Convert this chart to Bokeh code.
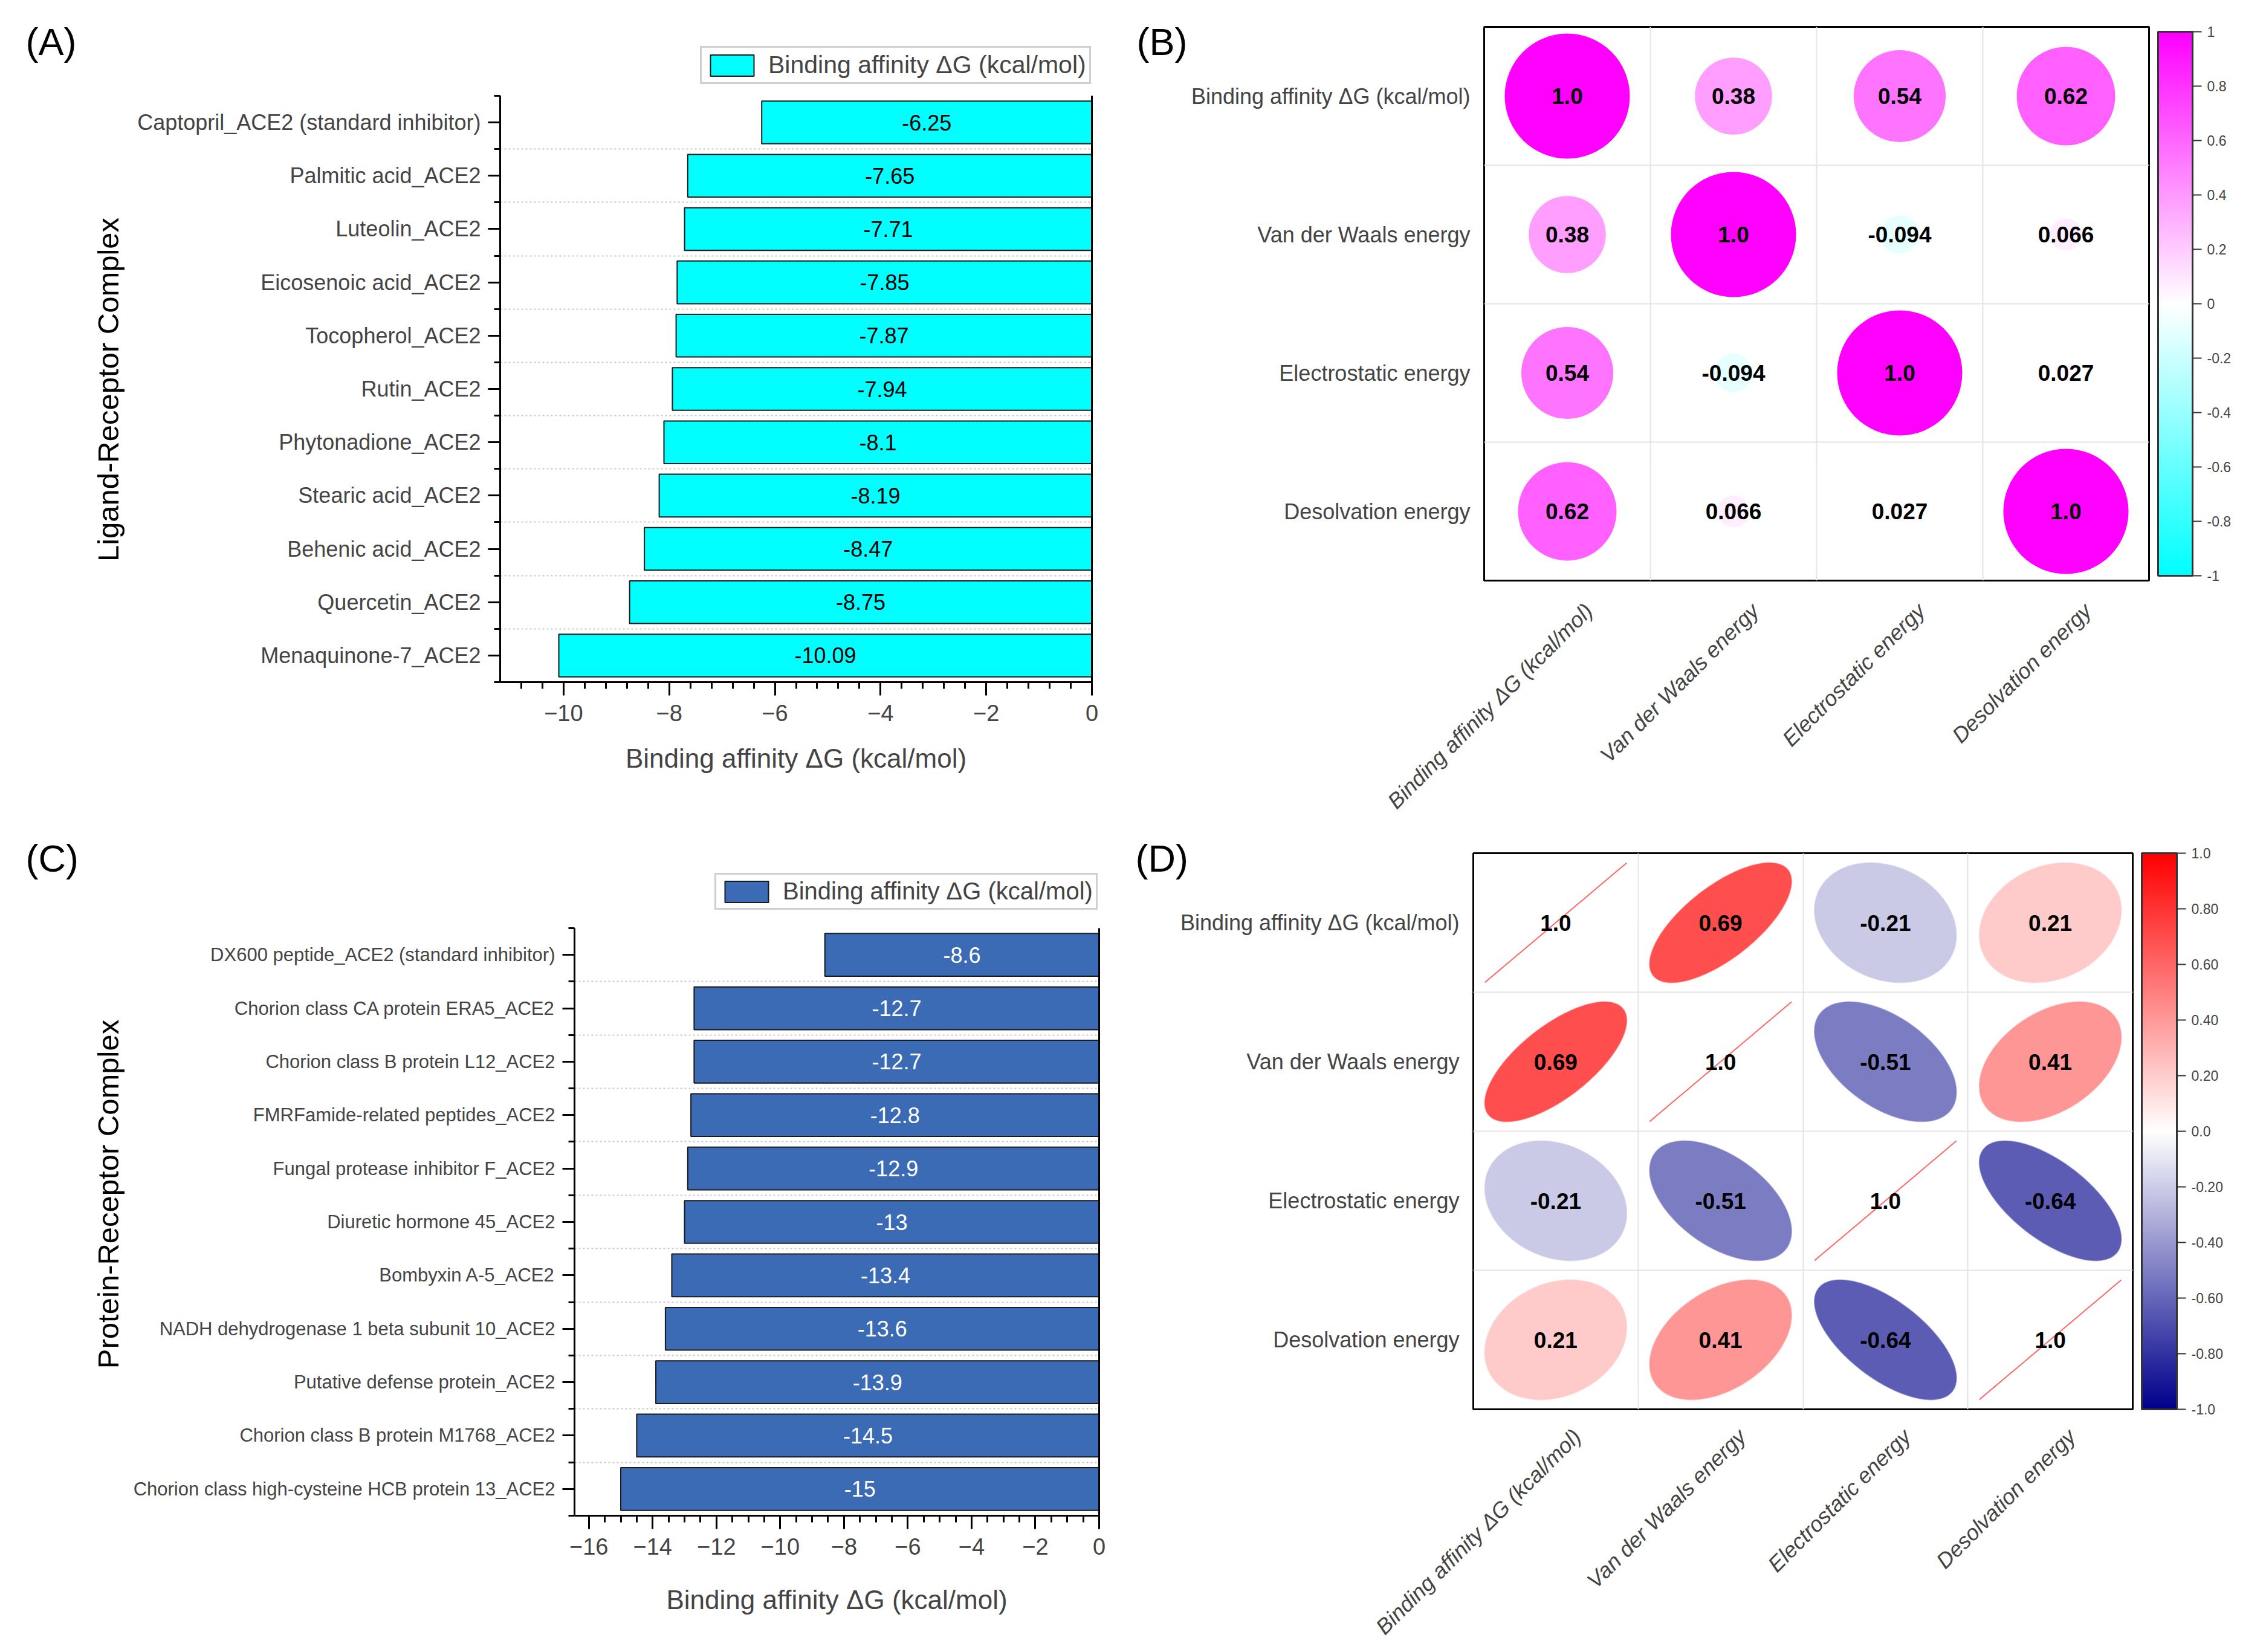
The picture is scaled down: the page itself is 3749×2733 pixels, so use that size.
import numpy as np
from math import pi
from bokeh.plotting import figure
from bokeh.models import (Range1d, FixedTicker, LinearAxis, Label, Legend, LegendItem,
                          ColumnDataSource, LinearColorMapper, ColorBar)
from bokeh.layouts import row, column
from bokeh.core.properties import value
from bokeh.embed import file_html
from bokeh.resources import INLINE

FONT = "Liberation Sans"

# ---------------- data ----------------
ligands = ["Captopril_ACE2 (standard inhibitor)", "Palmitic acid_ACE2", "Luteolin_ACE2",
           "Eicosenoic acid_ACE2", "Tocopherol_ACE2", "Rutin_ACE2", "Phytonadione_ACE2",
           "Stearic acid_ACE2", "Behenic acid_ACE2", "Quercetin_ACE2", "Menaquinone-7_ACE2"]
ligand_dg = [-6.25, -7.65, -7.71, -7.85, -7.87, -7.94, -8.1, -8.19, -8.47, -8.75, -10.09]

proteins = ["DX600 peptide_ACE2 (standard inhibitor)", "Chorion class CA protein ERA5_ACE2",
            "Chorion class B protein L12_ACE2", "FMRFamide-related peptides_ACE2",
            "Fungal protease inhibitor F_ACE2", "Diuretic hormone 45_ACE2", "Bombyxin A-5_ACE2",
            "NADH dehydrogenase 1 beta subunit 10_ACE2", "Putative defense protein_ACE2",
            "Chorion class B protein M1768_ACE2", "Chorion class high-cysteine HCB protein 13_ACE2"]
protein_dg = [-8.6, -12.7, -12.7, -12.8, -12.9, -13, -13.4, -13.6, -13.9, -14.5, -15]

a_xticks = [-10, -8, -6, -4, -2, 0]
a_xtick_labels = ["\u221210", "\u22128", "\u22126", "\u22124", "\u22122", "0"]
c_xticks = [-16, -14, -12, -10, -8, -6, -4, -2, 0]
c_xtick_labels = ["\u221216", "\u221214", "\u221212", "\u221210", "\u22128", "\u22126",
                  "\u22124", "\u22122", "0"]

dg_title = "Binding affinity \u0394G (kcal/mol)"
energy_terms = [dg_title, "Van der Waals energy", "Electrostatic energy", "Desolvation energy"]
corr_b = [[1.0, 0.38, 0.54, 0.62],
          [0.38, 1.0, -0.094, 0.066],
          [0.54, -0.094, 1.0, 0.027],
          [0.62, 0.066, 0.027, 1.0]]
corr_d = [[1.0, 0.69, -0.21, 0.21],
          [0.69, 1.0, -0.51, 0.41],
          [-0.21, -0.51, 1.0, -0.64],
          [0.21, 0.41, -0.64, 1.0]]

cb_ticks = [-1, -0.8, -0.6, -0.4, -0.2, 0, 0.2, 0.4, 0.6, 0.8, 1]
cb_b_labels = ["-1", "-0.8", "-0.6", "-0.4", "-0.2", "0", "0.2", "0.4", "0.6", "0.8", "1"]
cb_d_labels = ["-1.0", "-0.80", "-0.60", "-0.40", "-0.20", "0.0", "0.20", "0.40", "0.60", "0.80", "1.0"]


def ramp(c_lo, c_mid, c_hi, n=256):
    out = []
    for k in range(n):
        t = k / (n - 1) * 2 - 1
        a, b, f = (c_mid, c_hi, t) if t >= 0 else (c_mid, c_lo, -t)
        rgb = [round(a[i] + (b[i] - a[i]) * f) for i in range(3)]
        out.append("#%02x%02x%02x" % tuple(rgb))
    return out


pal_b = ramp((0, 255, 255), (255, 255, 255), (255, 0, 255))
pal_d = ramp((0, 0, 139), (255, 255, 255), (255, 0, 0))


def make_fig(frame, box, xr, yr):
    ox, oy, W, H = box
    L, T, R, B = frame
    p = figure(frame_width=R - L, frame_height=B - T,
               min_border_left=L - ox, min_border_right=ox + W - R,
               min_border_top=T - oy, min_border_bottom=oy + H - B,
               x_range=xr, y_range=yr, output_backend="svg", toolbar_location=None,
               background_fill_color="white", border_fill_color="white")
    p.frame_align = False
    return p


def page_text(p, box, frame, text, px, py, size, angle=0.0, align="left", baseline="alphabetic"):
    ox, oy, W, H = box
    L, T, R, B = frame
    kw = dict(text=text, text_font=FONT, text_font_size=size, text_color="black",
              text_baseline=baseline, text_align=align, angle=angle)
    try:
        lab = Label(x=px - ox, y=py - oy, x_units="canvas", y_units="canvas", **kw)
    except Exception:
        lab = Label(x=px - L, y=B - py, x_units="screen", y_units="screen", **kw)
    p.add_layout(lab, "left")


def bar_panel(names, vals, xr0, xticks, xlabels, minor_step, fill, txt_color, ytitle,
              lab_size, frame, axis_top, box, letter, letter_pos, legend_box, xs_off,
              ytitle_pos, legend_size):
    L, T, R, B = frame
    n = len(names)
    idx = list(range(n))
    ppu = (B - axis_top) / n                      # pixels per category
    head = (axis_top - T) / ppu                   # headroom above the first category
    p = make_fig(frame, box, Range1d(xr0, 0), Range1d(n - 0.5, -0.5 - head))
    p.outline_line_color = None
    src = ColumnDataSource(dict(y=idx, v=vals, mid=[v / 2 for v in vals],
                                lab=[f"{v:g}" for v in vals]))
    bars = p.hbar(y="y", left=0, right="v", height=0.8, source=src, fill_color=fill,
                  line_color="#1a1a1a", line_width=2)
    p.text(x="mid", y="y", text="lab", source=src, text_align="center",
           text_baseline="middle", text_font=value(FONT), text_font_size="36px",
           text_color=txt_color)

    minor = [round(xticks[-1] - minor_step * k, 3) for k in range(int((-xr0) / minor_step) + 1)]
    minor = [m for m in minor if m not in xticks]
    xa = p.xaxis[0]
    xa.ticker = FixedTicker(ticks=xticks, minor_ticks=minor)
    xa.major_label_overrides = dict(zip(xticks, xlabels))
    xa.axis_label = dg_title
    xa.axis_label_text_font = FONT
    xa.axis_label_text_font_style = "normal"
    xa.axis_label_text_font_size = "44px"
    xa.axis_label_standoff = xs_off
    xa.major_label_text_font = FONT
    xa.major_label_text_font_size = "38px"
    xa.major_label_standoff = 15
    xa.axis_line_width = 3
    xa.major_tick_line_width = 3
    xa.minor_tick_line_width = 3
    xa.major_tick_out = 22
    xa.major_tick_in = 0
    xa.minor_tick_out = 11
    xa.minor_tick_in = 0

    ya = p.yaxis[0]
    ya.bounds = (-0.5, n - 0.5)
    ya.ticker = FixedTicker(ticks=idx, minor_ticks=[i - 0.5 for i in range(n + 1)])
    ya.major_label_overrides = dict(zip(idx, names))
    ya.major_label_text_font = FONT
    ya.major_label_text_font_size = lab_size
    ya.major_label_standoff = 12
    ya.axis_line_width = 3
    ya.major_tick_line_width = 3
    ya.minor_tick_line_width = 3
    ya.major_tick_out = 20
    ya.major_tick_in = 0
    ya.minor_tick_out = 10
    ya.minor_tick_in = 0

    ra = LinearAxis(ticker=FixedTicker(ticks=[]), axis_line_width=3, major_tick_out=0,
                    minor_tick_out=0, major_tick_in=0, minor_tick_in=0,
                    bounds=(-0.5, n - 0.5))
    p.add_layout(ra, "right")

    p.xgrid.visible = False
    p.ygrid.ticker = FixedTicker(ticks=[i + 0.5 for i in range(n - 1)])
    p.ygrid.grid_line_color = "#c8c8c8"
    p.ygrid.grid_line_dash = "3 4"
    p.ygrid.grid_line_width = 2

    lx, ly_bottom = legend_box
    leg = Legend(items=[LegendItem(label=dg_title, renderers=[bars])],
                 location=(lx - L, B - ly_bottom), glyph_width=90, glyph_height=44,
                 label_height=44, padding=5, margin=0, spacing=0, label_standoff=15,
                 label_text_font=FONT, label_text_font_size=legend_size,
                 border_line_color="#a0a0a0", border_line_width=3,
                 background_fill_color="white", background_fill_alpha=1.0)
    p.add_layout(leg)
    page_text(p, box, frame, letter, *letter_pos, size="63px")
    page_text(p, box, frame, ytitle, *ytitle_pos, size="49px", angle=pi / 2,
              align="center", baseline="middle")
    return p


def corr_panel(terms, corr, kind, palette, cb_labels, frame, box, letter, letter_pos,
               cb_gap, cb_inset, cb_width, lab_shift, lab_standoff):
    L, T, R, B = frame
    n = len(terms)
    p = make_fig(frame, box, Range1d(0, n), Range1d(0, n))
    p.outline_line_color = "black"
    p.outline_line_width = 3
    xs, ys, rs, labs, rad, exs, eys = [], [], [], [], [], [], []
    t = np.linspace(0, 2 * pi, 120)
    for i in range(n):
        for j in range(n):
            r = corr[i][j]
            cx, cy = j + 0.5, n - 0.5 - i
            xs.append(cx)
            ys.append(cy)
            rs.append(r)
            labs.append("1.0" if r == 1 else f"{r:g}")
            rad.append(0.452 * np.sqrt(abs(r)))
            d = np.arccos(r)
            exs.append(list(cx + 0.43 * np.cos(t + d / 2)))
            eys.append(list(cy + 0.43 * np.cos(t - d / 2)))
    src = ColumnDataSource(dict(x=xs, y=ys, r=rs, lab=labs, rad=rad, ex=exs, ey=eys))
    mapper = LinearColorMapper(palette=palette, low=-1, high=1)
    cmap = {"field": "r", "transform": mapper}
    if kind == "circle":
        p.circle(x="x", y="y", radius="rad", radius_dimension="y", source=src,
                 fill_color=cmap, line_color=None)
    else:
        p.patches(xs="ex", ys="ey", source=src, fill_color=cmap, line_color=cmap,
                  line_width=2, line_alpha=0.6)
    p.text(x="x", y="y", text="lab", source=src, text_align="center", text_baseline="middle",
           text_font=value(FONT), text_font_size="37px", text_font_style="bold",
           text_color="black")

    xa = p.xaxis[0]
    xpos = [j + 0.5 + lab_shift for j in range(n)]
    xa.ticker = FixedTicker(ticks=xpos, minor_ticks=[])
    xa.major_label_overrides = {xpos[j]: terms[j] for j in range(n)}
    xa.major_label_orientation = pi / 4
    xa.major_label_text_font = FONT
    xa.major_label_text_font_style = "italic"
    xa.major_label_text_font_size = "36px"
    xa.major_label_standoff = lab_standoff
    xa.axis_line_color = None
    xa.major_tick_line_color = None
    xa.minor_tick_line_color = None

    ya = p.yaxis[0]
    ya.ticker = FixedTicker(ticks=[n - 0.5 - i for i in range(n)], minor_ticks=[])
    ya.major_label_overrides = {n - 0.5 - i: terms[i] for i in range(n)}
    ya.major_label_text_font = FONT
    ya.major_label_text_font_size = "36px"
    ya.major_label_standoff = 17
    ya.axis_line_color = None
    ya.major_tick_line_color = None
    ya.minor_tick_line_color = None

    for g in (p.xgrid, p.ygrid):
        g.ticker = FixedTicker(ticks=list(range(1, n)))
        g.grid_line_color = "#e4e4e4"
        g.grid_line_width = 2

    cb = ColorBar(color_mapper=mapper, ticker=FixedTicker(ticks=cb_ticks),
                  major_label_overrides=dict(zip(cb_ticks, cb_labels)),
                  width=cb_width, height=(B - T) - 2 * cb_inset, location=(cb_gap, cb_inset),
                  margin=0, padding=0, major_tick_out=15, major_tick_in=0,
                  major_tick_line_color="#333333", major_tick_line_width=2,
                  minor_tick_out=0, minor_tick_in=0, label_standoff=9,
                  major_label_text_font=FONT, major_label_text_font_size="23px",
                  bar_line_color="#333333", bar_line_width=3,
                  border_line_color=None, background_fill_color=None)
    p.add_layout(cb, "right")
    page_text(p, box, frame, letter, *letter_pos, size="63px")
    return p


pA = bar_panel(ligands, ligand_dg, -11.2, a_xticks, a_xtick_labels, 0.4, "#00ffff", "black",
               "Ligand-Receptor Complex", "36px",
               frame=(835, 66, 1814, 1136), axis_top=166, box=(8, 8, 1858, 1358),
               letter="(A)", letter_pos=(50, 76), legend_box=(1166, 147), xs_off=34,
               ytitle_pos=(186, 652), legend_size="41px")

pC = bar_panel(proteins, protein_dg, -16.45, c_xticks, c_xtick_labels, 0.5, "#3b6bb4", "white",
               "Protein-Receptor Complex", "31px",
               frame=(958, 1425, 1826, 2510), axis_top=1538, box=(8, 1366, 1858, 1359),
               letter="(C)", letter_pos=(50, 1422), legend_box=(1190, 1508), xs_off=47,
               ytitle_pos=(186, 1978), legend_size="40px")

pB = corr_panel(energy_terms, corr_b, "circle", pal_b, cb_b_labels,
                frame=(2463, 52, 3563, 968), box=(1866, 8, 1875, 1358),
                letter="(B)", letter_pos=(1888, 76), cb_gap=15, cb_inset=8, cb_width=57,
                lab_shift=0.13, lab_standoff=38)

pD = corr_panel(energy_terms, corr_d, "ellipse", pal_d, cb_d_labels,
                frame=(2445, 1414, 3536, 2334), box=(1866, 1366, 1875, 1359),
                letter="(D)", letter_pos=(1886, 1422), cb_gap=15, cb_inset=0, cb_width=58,
                lab_shift=0.13, lab_standoff=33)

layout = column(row(pA, pB), row(pC, pD))
open("out.html", "w").write(file_html(layout, INLINE))
